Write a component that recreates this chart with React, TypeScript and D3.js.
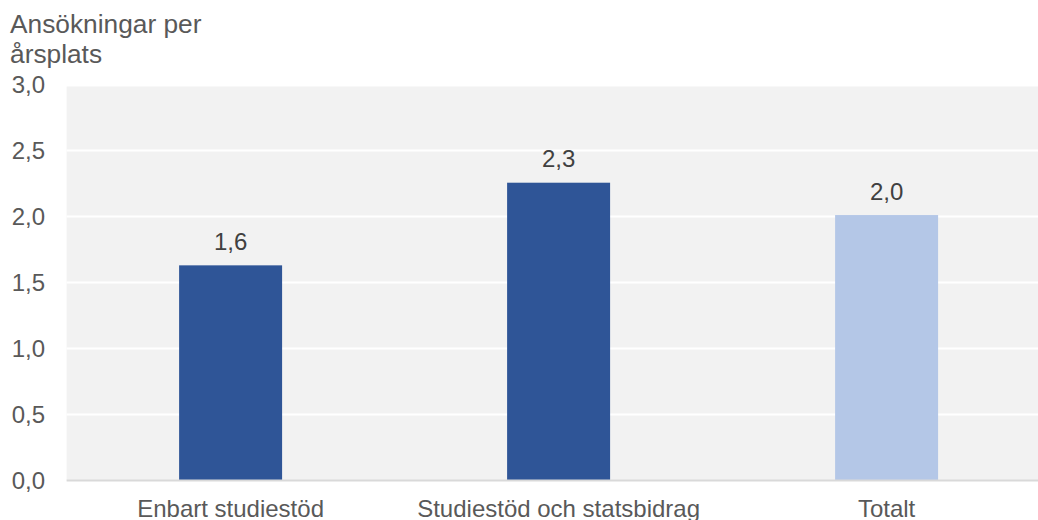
import React from "react";
import * as d3 from "d3";

const categories = ["Enbart studiestöd", "Studiestöd och statsbidrag", "Totalt"];
const values = [1.63, 2.256, 2.011];
const valueLabels = ["1,6", "2,3", "2,0"];
const barColors = ["#2f5597", "#2f5597", "#b4c7e7"];
const yTicks = [0, 0.5, 1, 1.5, 2, 2.5, 3];
const titleLines = ["Ansökningar per", "årsplats"];

const W = 1038;
const H = 520;
const plotLeft = 66.6;
const plotRightFull = 1050.6;
const plotTop = 86.5;

export default function App() {
  const y = d3.scaleLinear().domain([0, 3]).range([480.5, 84.5]);
  const x = d3
    .scaleBand<string>()
    .domain(categories)
    .range([plotLeft, plotRightFull])
    .paddingInner(0.686)
    .paddingOuter(0.343);
  const fmt = (v: number) => d3.format(".1f")(v).replace(".", ",");
  const font = "'Liberation Sans', Arial, sans-serif";

  return (
    <svg
      width={W}
      height={H}
      style={{ position: "absolute", left: 0, top: 0, background: "#ffffff" }}
      fontFamily={font}
    >
      <rect x={plotLeft} y={plotTop} width={W - plotLeft} height={y(0) - plotTop} fill="#f2f2f2" />
      {yTicks
        .filter((t) => t > 0 && t < 3)
        .map((t) => (
          <line key={t} x1={plotLeft} x2={W} y1={y(t)} y2={y(t)} stroke="#ffffff" strokeWidth={2} />
        ))}
      {categories.map((c, i) => (
        <rect
          key={c}
          x={x(c)}
          y={y(values[i])}
          width={x.bandwidth()}
          height={y(0) - y(values[i])}
          fill={barColors[i]}
        />
      ))}
      <line x1={plotLeft} x2={W} y1={y(0)} y2={y(0)} stroke="#d9d9d9" strokeWidth={2} />
      {yTicks.map((t) => (
        <text key={t} x={45} y={y(t)} dy="0.35em" textAnchor="end" fontSize={24} fill="#595959">
          {fmt(t)}
        </text>
      ))}
      {categories.map((c, i) => (
        <text
          key={"v" + c}
          x={(x(c) as number) + x.bandwidth() / 2}
          y={y(values[i]) - 15.5}
          textAnchor="middle"
          fontSize={24}
          fill="#404040"
        >
          {valueLabels[i]}
        </text>
      ))}
      {categories.map((c) => (
        <text
          key={"c" + c}
          x={(x(c) as number) + x.bandwidth() / 2}
          y={516.5}
          textAnchor="middle"
          fontSize={24}
          fill="#595959"
        >
          {c}
        </text>
      ))}
      {titleLines.map((l, i) => (
        <text key={l} x={10} y={33.3 + i * 30} fontSize={26.3} fill="#595959">
          {l}
        </text>
      ))}
    </svg>
  );
}
